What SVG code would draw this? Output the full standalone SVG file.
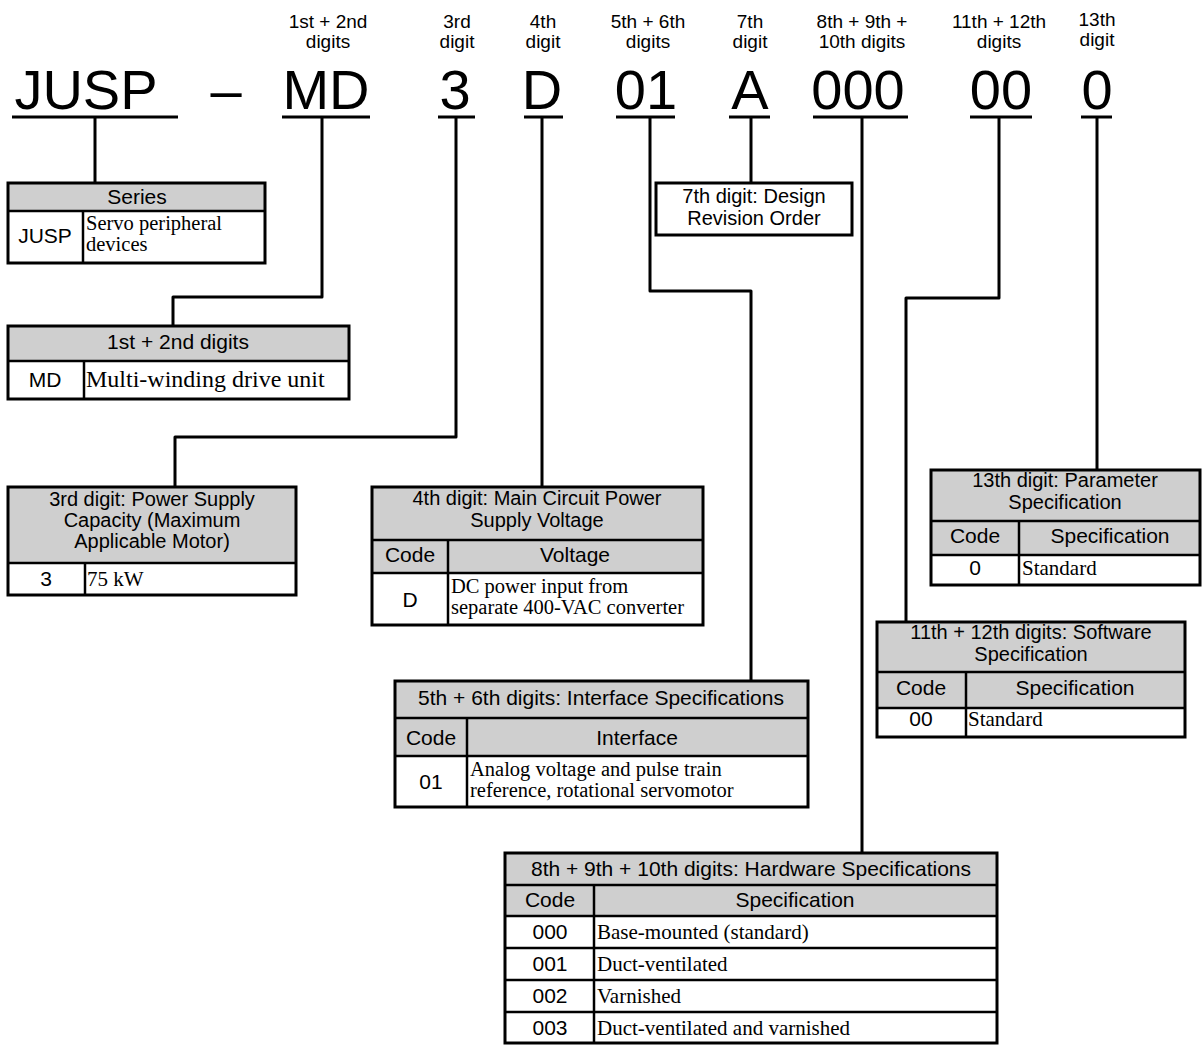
<svg xmlns="http://www.w3.org/2000/svg" width="1203" height="1045" viewBox="0 0 1203 1045">
<style>
.big{font-family:"Liberation Sans",Arial,sans-serif;font-size:56px;text-anchor:middle;fill:#000}
.lbl{font-family:"Liberation Sans",Arial,sans-serif;font-size:19px;text-anchor:middle;fill:#000}
.s{font-family:"Liberation Sans",Arial,sans-serif;font-size:21px;text-anchor:middle;fill:#000}
.m{font-family:"Liberation Sans",Arial,sans-serif;font-size:20px;text-anchor:middle;fill:#000}
.t{font-family:"Liberation Serif","Times New Roman",serif;font-size:21px;fill:#000}
.t2{font-family:"Liberation Serif","Times New Roman",serif;font-size:20.5px;fill:#000}
.hd{fill:#cfcfcf;stroke:none}
.bx{fill:none;stroke:#000;stroke-width:3}
.ln{fill:none;stroke:#000;stroke-width:2.5}
.ul{stroke:#000;stroke-width:3}
.cn{fill:none;stroke:#000;stroke-width:3;stroke-linejoin:round}
</style>
<g id="code">
<text class="lbl" x="328" y="28">1st + 2nd</text><text class="lbl" x="328" y="48">digits</text>
<text class="lbl" x="457" y="28">3rd</text><text class="lbl" x="457" y="48">digit</text>
<text class="lbl" x="543" y="28">4th</text><text class="lbl" x="543" y="48">digit</text>
<text class="lbl" x="648" y="28">5th + 6th</text><text class="lbl" x="648" y="48">digits</text>
<text class="lbl" x="750" y="28">7th</text><text class="lbl" x="750" y="48">digit</text>
<text class="lbl" x="862" y="28">8th + 9th +</text><text class="lbl" x="862" y="48">10th digits</text>
<text class="lbl" x="999" y="28">11th + 12th</text><text class="lbl" x="999" y="48">digits</text>
<text class="lbl" x="1097" y="26">13th</text><text class="lbl" x="1097" y="46">digit</text>
<text class="big" x="86" y="109">JUSP</text>
<text class="big" x="226" y="109">–</text>
<text class="big" x="326" y="109">MD</text>
<text class="big" x="455" y="109">3</text>
<text class="big" x="542" y="109">D</text>
<text class="big" x="646" y="109">01</text>
<text class="big" x="750" y="109">A</text>
<text class="big" x="858" y="109">000</text>
<text class="big" x="1001" y="109">00</text>
<text class="big" x="1097" y="109">0</text>
<line class="ul" x1="12" y1="117" x2="178" y2="117"/>
<line class="ul" x1="282" y1="117" x2="370" y2="117"/>
<line class="ul" x1="438" y1="117" x2="475" y2="117"/>
<line class="ul" x1="524" y1="117" x2="563" y2="117"/>
<line class="ul" x1="616" y1="117" x2="675" y2="117"/>
<line class="ul" x1="729" y1="117" x2="770" y2="117"/>
<line class="ul" x1="813" y1="117" x2="908" y2="117"/>
<line class="ul" x1="970" y1="117" x2="1032" y2="117"/>
<line class="ul" x1="1081" y1="117" x2="1112" y2="117"/>
</g>
<g id="connectors">
<path class="cn" d="M95 117 V183"/>
<path class="cn" d="M322 117 V297 H173 V326"/>
<path class="cn" d="M456 117 V437 H175 V487"/>
<path class="cn" d="M542 117 V487"/>
<path class="cn" d="M650 117 V291 H751 V681"/>
<path class="cn" d="M751 117 V183"/>
<path class="cn" d="M862 117 V853"/>
<path class="cn" d="M999 117 V298 H906 V622"/>
<path class="cn" d="M1097 117 V470"/>
</g>
<g id="series">
<rect class="hd" x="8" y="183" width="257" height="28"/>
<rect class="bx" x="8" y="183" width="257" height="80"/>
<line class="ln" x1="8" y1="211" x2="265" y2="211"/>
<line class="ln" x1="83" y1="211" x2="83" y2="263"/>
<text class="s" x="137" y="204">Series</text>
<text class="s" x="45" y="243">JUSP</text>
<text class="t2" x="86" y="230">Servo peripheral</text>
<text class="t2" x="86" y="251">devices</text>
</g>
<g id="digits12">
<rect class="hd" x="8" y="326" width="341" height="35"/>
<rect class="bx" x="8" y="326" width="341" height="73"/>
<line class="ln" x1="8" y1="361" x2="349" y2="361"/>
<line class="ln" x1="84" y1="361" x2="84" y2="399"/>
<text class="s" x="178" y="349">1st + 2nd digits</text>
<text class="s" x="45" y="387">MD</text>
<text class="t" x="86" y="387" style="font-size:24px">Multi-winding drive unit</text>
</g>
<g id="digit3">
<rect class="hd" x="8" y="487" width="288" height="76"/>
<rect class="bx" x="8" y="487" width="288" height="108"/>
<line class="ln" x1="8" y1="563" x2="296" y2="563"/>
<line class="ln" x1="85" y1="563" x2="85" y2="595"/>
<text class="m" x="152" y="506">3rd digit: Power Supply</text>
<text class="m" x="152" y="527">Capacity (Maximum</text>
<text class="m" x="152" y="548">Applicable Motor)</text>
<text class="s" x="46" y="586">3</text>
<text class="t" x="87" y="586">75 kW</text>
</g>
<g id="digit4">
<rect class="hd" x="372" y="487" width="331" height="86"/>
<rect class="bx" x="372" y="487" width="331" height="138"/>
<line class="ln" x1="372" y1="540" x2="703" y2="540"/>
<line class="ln" x1="372" y1="573" x2="703" y2="573"/>
<line class="ln" x1="448" y1="540" x2="448" y2="625"/>
<text class="m" x="537" y="505">4th digit: Main Circuit Power</text>
<text class="m" x="537" y="527">Supply Voltage</text>
<text class="s" x="410" y="562">Code</text>
<text class="s" x="575" y="562">Voltage</text>
<text class="s" x="410" y="607">D</text>
<text class="t2" x="451" y="593">DC power input from</text>
<text class="t2" x="451" y="614">separate 400-VAC converter</text>
</g>
<g id="digit7">
<rect class="bx" x="656" y="183" width="196" height="52"/>
<text class="m" x="754" y="203">7th digit: Design</text>
<text class="m" x="754" y="225">Revision Order</text>
</g>
<g id="digits56">
<rect class="hd" x="395" y="681" width="413" height="75"/>
<rect class="bx" x="395" y="681" width="413" height="126"/>
<line class="ln" x1="395" y1="718" x2="808" y2="718"/>
<line class="ln" x1="395" y1="756" x2="808" y2="756"/>
<line class="ln" x1="467" y1="718" x2="467" y2="807"/>
<text class="s" x="601" y="705">5th + 6th digits: Interface Specifications</text>
<text class="s" x="431" y="745">Code</text>
<text class="s" x="637" y="745">Interface</text>
<text class="s" x="431" y="789">01</text>
<text class="t2" x="470" y="776">Analog voltage and pulse train</text>
<text class="t2" x="470" y="797">reference, rotational servomotor</text>
</g>
<g id="digit13">
<rect class="hd" x="931" y="470" width="269" height="85"/>
<rect class="bx" x="931" y="470" width="269" height="115"/>
<line class="ln" x1="931" y1="521" x2="1200" y2="521"/>
<line class="ln" x1="931" y1="555" x2="1200" y2="555"/>
<line class="ln" x1="1019" y1="521" x2="1019" y2="585"/>
<text class="m" x="1065" y="487">13th digit: Parameter</text>
<text class="m" x="1065" y="509">Specification</text>
<text class="s" x="975" y="543">Code</text>
<text class="s" x="1110" y="543">Specification</text>
<text class="s" x="975" y="575">0</text>
<text class="t" x="1022" y="575">Standard</text>
</g>
<g id="digits1112">
<rect class="hd" x="877" y="622" width="308" height="86"/>
<rect class="bx" x="877" y="622" width="308" height="115"/>
<line class="ln" x1="877" y1="672" x2="1185" y2="672"/>
<line class="ln" x1="877" y1="708" x2="1185" y2="708"/>
<line class="ln" x1="966" y1="672" x2="966" y2="737"/>
<text class="m" x="1031" y="639">11th + 12th digits: Software</text>
<text class="m" x="1031" y="661">Specification</text>
<text class="s" x="921" y="695">Code</text>
<text class="s" x="1075" y="695">Specification</text>
<text class="s" x="921" y="726">00</text>
<text class="t" x="968" y="726">Standard</text>
</g>
<g id="digits8910">
<rect class="hd" x="505" y="853" width="492" height="63"/>
<rect class="bx" x="505" y="853" width="492" height="190"/>
<line class="ln" x1="505" y1="885" x2="997" y2="885"/>
<line class="ln" x1="505" y1="916" x2="997" y2="916"/>
<line class="ln" x1="505" y1="948" x2="997" y2="948"/>
<line class="ln" x1="505" y1="980" x2="997" y2="980"/>
<line class="ln" x1="505" y1="1012" x2="997" y2="1012"/>
<line class="ln" x1="594" y1="885" x2="594" y2="1043"/>
<text class="s" x="751" y="876">8th + 9th + 10th digits: Hardware Specifications</text>
<text class="s" x="550" y="907">Code</text>
<text class="s" x="795" y="907">Specification</text>
<text class="s" x="550" y="939">000</text>
<text class="t" x="597" y="939">Base-mounted (standard)</text>
<text class="s" x="550" y="971">001</text>
<text class="t" x="597" y="971">Duct-ventilated</text>
<text class="s" x="550" y="1003">002</text>
<text class="t" x="597" y="1003">Varnished</text>
<text class="s" x="550" y="1035">003</text>
<text class="t" x="597" y="1035">Duct-ventilated and varnished</text>
</g>
</svg>
